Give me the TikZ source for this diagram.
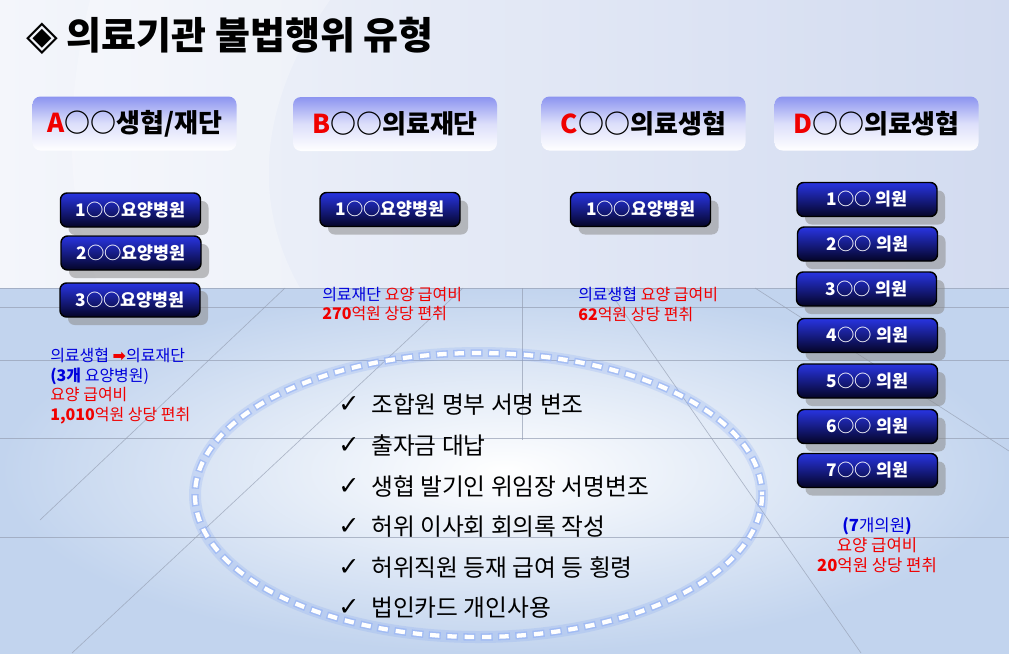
\documentclass[tikz,border=0pt]{standalone}
\usepackage{fontspec}
\newfontfamily\kr{Noto Sans CJK KR}
\newfontfamily\djv{DejaVu Sans}
\definecolor{bgL}{RGB}{244,246,251}
\definecolor{bgR}{RGB}{210,219,240}
\definecolor{floorc}{RGB}{194,212,238}
\definecolor{hdrtop}{RGB}{140,148,240}
\definecolor{btntop}{RGB}{40,52,225}
\definecolor{btnbot}{RGB}{4,4,38}
\definecolor{gridc}{RGB}{150,160,180}
\definecolor{txtblue}{RGB}{0,0,220}
\definecolor{txtred}{RGB}{240,0,0}
\definecolor{glow}{RGB}{110,150,240}
\tikzset{
  hdr/.style={rounded corners=6pt, minimum width=153pt, minimum height=40.5pt,
    top color=hdrtop, bottom color=white, middle color=hdrtop!30,
    font=\kr\bfseries\fontsize{19.5}{22}\selectfont, inner sep=0pt},
  btn/.style={rounded corners=5pt, draw=black, line width=1.1pt,
    top color=btntop, bottom color=btnbot,
    minimum width=105pt, minimum height=25.5pt, text=white, inner sep=0pt,
    font=\kr\bfseries\fontsize{13}{15}\selectfont,
    preaction={fill=black!45, fill opacity=0.55, draw=none,
      transform canvas={shift={(6pt,-6pt)}}}},
  note/.style={align=left, inner sep=0pt, font=\kr\bfseries\fontsize{12}{14.6}\selectfont},
  chk/.style={inner sep=0pt, font=\djv\bfseries\fontsize{19}{20}\selectfont},
  item/.style={anchor=west, inner sep=0pt, font=\kr\fontsize{17.8}{20}\selectfont},
  gridline/.style={draw=gridc, line width=0.5pt, opacity=0.7},
}
\begin{document}
\begin{tikzpicture}[x=0.75pt,y=-0.75pt]
\useasboundingbox (0,0) rectangle (1009,653);
% background
\shade[left color=bgL, right color=bgR] (0,0) rectangle (1009,653);
\fill[white, opacity=0.25] (90,0) .. controls (60,120) and (70,220) .. (100,288) -- (300,288) .. controls (250,200) and (260,100) .. (330,0) -- cycle;
\shade[inner color=white, outer color=floorc] (0,288) rectangle (1009,653);
% grid lines
\draw[gridline] (0,288) -- (1009,288);
\draw[gridline] (0,307) -- (1009,307);
\draw[gridline] (0,360) -- (1009,360);
\draw[gridline] (0,438) -- (1009,438);
\draw[gridline] (0,537) -- (1009,537);
\draw[gridline] (522,288) -- (522,440);
\draw[gridline] (285,288) -- (40,520);
\draw[gridline] (463,288) -- (72,653);
\draw[gridline] (607,288) -- (861,653);
\draw[gridline] (755,288) -- (1009,451);
% title
\node[anchor=west, inner sep=0pt, font=\kr\bfseries\fontsize{28.5}{32}\selectfont] (title) at (26,36) {{\djv\fontsize{31}{32}\selectfont ◈} 의료기관 불법행위 유형};
% headers
\node[hdr] (hA) at (134.5,123.5) {{\color{txtred}A}○○생협/재단};
\node[hdr] (hB) at (395,124) {{\color{txtred}B}○○의료재단};
\node[hdr] (hC) at (643.5,123.5) {{\color{txtred}C}○○의료생협};
\node[hdr] (hD) at (876.5,123.5) {{\color{txtred}D}○○의료생협};
% buttons
\node[btn] (a1) at (130.5,210) {1○○요양병원};
\node[btn] (a2) at (131,253) {2○○요양병원};
\node[btn] (a3) at (130,300) {3○○요양병원};
\node[btn] (b1) at (390,209.5) {1○○요양병원};
\node[btn] (c1) at (640.5,209.5) {1○○요양병원};
\node[btn] (d1) at (867,199.5) {1○○ 의원};
\node[btn] (d2) at (867.5,244) {2○○ 의원};
\node[btn] (d3) at (866.5,289) {3○○ 의원};
\node[btn] (d4) at (867.5,335.5) {4○○ 의원};
\node[btn] (d5) at (867.5,381) {5○○ 의원};
\node[btn] (d6) at (867.5,426.5) {6○○ 의원};
\node[btn] (d7) at (867.5,470.5) {7○○ 의원};
% notes
\node[note, anchor=north west] (nA) at (50,348) {%
  {\color{txtblue}\mdseries 의료생협 {\color{txtred}\djv\bfseries ➡}의료재단}\\
  {\color{txtblue}(3개 \mdseries 요양병원)}\\
  {\color{txtred}\mdseries 요양 급여비}\\
  {\color{txtred}1,010{\mdseries 억원 상당 편취}}};
\node[note, anchor=north west] (nB) at (322,287) {%
  {\color{txtblue}\mdseries 의료재단} {\color{txtred}\mdseries 요양 급여비}\\
  {\color{txtred}270{\mdseries 억원 상당 편취}}};
\node[note, anchor=north west] (nC) at (578,287) {%
  {\color{txtblue}\mdseries 의료생협} {\color{txtred}\mdseries 요양 급여비}\\
  {\color{txtred}62{\mdseries 억원 상당 편취}}};
\node[note, align=center, font=\kr\bfseries\fontsize{12.5}{15}\selectfont] (nD) at (877,545) {%
  {\color{txtblue}(7{\mdseries 개의원})}\\
  {\color{txtred}\mdseries 요양 급여비}\\
  {\color{txtred}20{\mdseries 억원 상당 편취}}};
% ellipse
\draw[glow, line width=9pt, opacity=0.18] (478.5,495) ellipse [x radius=283.5, y radius=142];
\draw[glow!70, line width=5.5pt, opacity=0.75, dash pattern=on 9pt off 4pt] (478.5,495) ellipse [x radius=283.5, y radius=142];
\draw[white, line width=3.2pt, dash pattern=on 7pt off 6pt, dash phase=12pt] (478.5,495) ellipse [x radius=283.5, y radius=142];
% checklist
\foreach \y/\t [count=\i] in {405/조합원 명부 서명 변조, 446/출자금 대납, 487/생협 발기인 위임장 서명변조, 527/허위 이사회 회의록 작성, 568/허위직원 등재 급여 등 횡령, 608/법인카드 개인사용}{
  \node[chk] (k\i) at (349,\y) {✓};
  \node[item] (t\i) at (371,\y) {\t};
}
\end{tikzpicture}
\end{document}
